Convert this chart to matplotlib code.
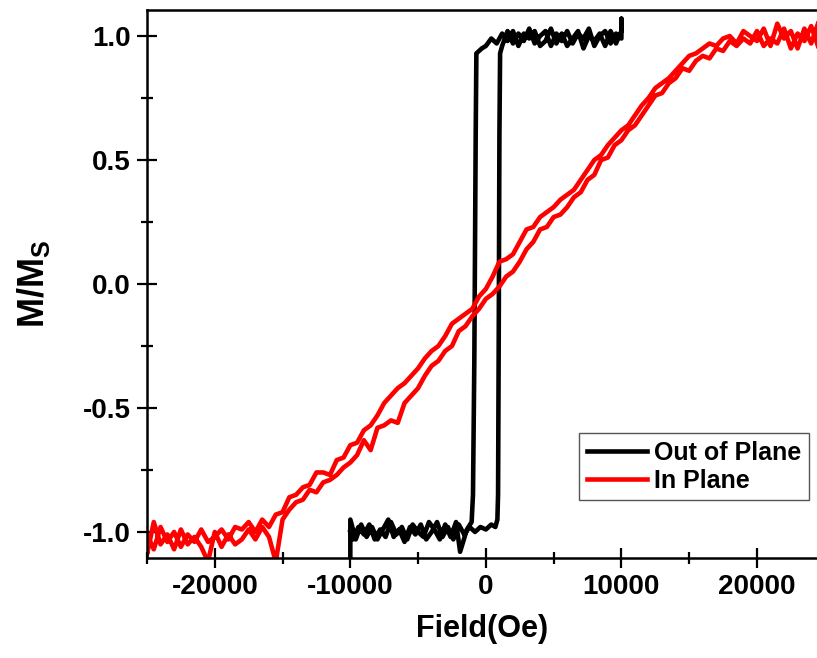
import matplotlib
matplotlib.use("Agg")
import matplotlib.pyplot as plt
from matplotlib.ticker import MultipleLocator

plt.rcParams["font.family"] = ["Liberation Sans", "DejaVu Sans"]
plt.rcParams["font.weight"] = "bold"
plt.rcParams["mathtext.fontset"] = "custom"
plt.rcParams["mathtext.rm"] = "Liberation Sans:bold"
plt.rcParams["mathtext.bf"] = "Liberation Sans:bold"
plt.rcParams["mathtext.it"] = "Liberation Sans:bold"

# Out of plane loop (black), field in Oe
oop_up_field = [-10000, -10000, -9600, -9200, -8800, -8400, -8000, -7600, -7200, -6800,
                -6400, -6000, -5600, -5200, -4800, -4400, -4000, -3600, -3200, -2800,
                -2400, -2000, -1600, -1200, -800, -400, 0, 400, 700, 850,
                900, 950, 1000, 1050, 1200, 1600, 2000, 2400, 2800, 3200,
                3600, 4000, 4400, 4800, 5200, 5600, 6000, 6400, 6800, 7200,
                7600, 8000, 8400, 8800, 9200, 9600, 10000, 10000]
oop_up_m = [-1.15, -0.95, -1.03, -0.97, -1.02, -0.98, -1.03, -0.99, -0.95, -1.02,
            -0.99, -1.04, -0.98, -1.01, -0.97, -1.03, -1.00, -0.96, -1.02, -0.98,
            -1.03, -0.97, -1.01, -0.98, -1.00, -0.98, -0.99, -0.97, -0.98, -0.95,
            -0.85, -0.20, 0.60, 0.93, 0.96, 1.02, 0.97, 1.01, 0.98, 1.03,
            0.97, 1.00, 1.02, 0.96, 1.01, 0.98, 1.02, 0.97, 1.01, 0.99,
            1.03, 0.96, 1.00, 1.02, 0.97, 1.01, 0.99, 1.07]

oop_down_field = [10000, 9600, 9200, 8800, 8400, 8000, 7600, 7200, 6800, 6400,
                  6000, 5600, 5200, 4800, 4400, 4000, 3600, 3200, 2800, 2400,
                  2000, 1600, 1200, 800, 400, 0, -300, -500, -700, -750,
                  -850, -950, -1050, -1400, -1900, -2200, -2600, -3000, -3400, -3800,
                  -4200, -4600, -5000, -5400, -5800, -6200, -6600, -7000, -7400, -7800,
                  -8200, -8600, -9000, -9400, -9800, -10000]
oop_down_m = [1.02, 0.97, 1.02, 0.96, 1.01, 0.98, 1.00, 0.95, 1.02, 0.99,
              0.96, 1.01, 0.97, 1.03, 0.98, 0.96, 1.02, 0.99, 1.01, 0.96,
              1.02, 0.98, 1.01, 0.97, 0.99, 0.96, 0.95, 0.94, 0.93, 0.60,
              -0.30, -0.85, -0.96, -0.99, -1.08, -0.96, -1.02, -0.97, -1.03, -0.99,
              -0.96, -1.02, -1.00, -0.97, -1.03, -0.98, -1.01, -0.96, -1.02, -0.99,
              -1.03, -0.97, -1.01, -0.98, -1.03, -1.00]

# In plane loop (red), same field grid for both branches
ip_field = [-25000, -24500, -24000, -23500, -23000, -22500, -22000, -21500, -21000, -20500,
            -20000, -19500, -19000, -18500, -18000, -17500, -17000, -16500, -16000, -15500,
            -15000, -14500, -14000, -13500, -13000, -12500, -12000, -11500, -11000, -10500,
            -10000, -9500, -9000, -8500, -8000, -7500, -7000, -6500, -6000, -5500,
            -5000, -4500, -4000, -3500, -3000, -2500, -2000, -1500, -1000, -500,
            0, 500, 1000, 1500, 2000, 2500, 3000, 3500, 4000, 4500,
            5000, 5500, 6000, 6500, 7000, 7500, 8000, 8500, 9000, 9500,
            10000, 10500, 11000, 11500, 12000, 12500, 13000, 13500, 14000, 14500,
            15000, 15500, 16000, 16500, 17000, 17500, 18000, 18500, 19000, 19500,
            20000, 20500, 21000, 21500, 22000, 22500, 23000, 23500, 24000, 24500]
ip_up_m = [-1.09, -0.96, -1.05, -1.01, -1.07, -0.99, -1.05, -1.02, -1.06, -1.12,
           -1.00, -1.06, -1.01, -1.05, -1.03, -0.99, -1.03, -0.98, -1.02, -1.12,
           -0.95, -0.91, -0.88, -0.87, -0.83, -0.84, -0.80, -0.79, -0.77, -0.74,
           -0.72, -0.69, -0.63, -0.67, -0.58, -0.57, -0.55, -0.56, -0.48, -0.45,
           -0.42, -0.37, -0.33, -0.31, -0.27, -0.25, -0.19, -0.17, -0.13, -0.10,
           -0.06, -0.04, -0.01, 0.03, 0.05, 0.09, 0.14, 0.17, 0.22, 0.23,
           0.27, 0.28, 0.31, 0.35, 0.37, 0.42, 0.44, 0.50, 0.51, 0.56,
           0.58, 0.62, 0.64, 0.68, 0.72, 0.76, 0.77, 0.81, 0.83, 0.87,
           0.86, 0.90, 0.92, 0.91, 0.95, 0.94, 0.98, 0.96, 0.99, 0.97,
           1.02, 0.96, 0.99, 0.97, 1.03, 0.95, 1.01, 0.98, 1.04, 0.96]
ip_down_m = [-1.01, -1.07, -0.98, -1.04, -1.00, -1.06, -1.01, -1.04, -0.99, -1.04,
             -1.02, -0.99, -1.03, -0.98, -0.99, -0.96, -1.00, -0.95, -0.98, -0.93,
             -0.92, -0.86, -0.85, -0.82, -0.81, -0.76, -0.76, -0.77, -0.71, -0.70,
             -0.65, -0.64, -0.59, -0.57, -0.53, -0.48, -0.45, -0.42, -0.40, -0.37,
             -0.34, -0.30, -0.27, -0.25, -0.21, -0.16, -0.14, -0.12, -0.10, -0.05,
             -0.02, 0.03, 0.09, 0.10, 0.12, 0.17, 0.22, 0.23, 0.27, 0.29,
             0.31, 0.34, 0.36, 0.38, 0.42, 0.46, 0.50, 0.52, 0.56, 0.59,
             0.62, 0.64, 0.68, 0.72, 0.75, 0.79, 0.81, 0.83, 0.86, 0.89,
             0.92, 0.93, 0.95, 0.97, 0.96, 0.99, 1.00, 0.97, 1.02, 1.00,
             0.98, 1.03, 0.96, 1.05, 0.99, 1.02, 0.95, 1.03, 0.97, 1.05]

fig = plt.figure(figsize=(8.17, 6.58), dpi=100)
ax = fig.add_axes([147 / 817, 1 - 558 / 658, 670 / 817, 548 / 658])

ax.plot(oop_up_field + oop_down_field, oop_up_m + oop_down_m, color="black", lw=3.3, label="Out of Plane")
ax.plot(ip_field[::-1] + ip_field, ip_down_m[::-1] + ip_up_m, color="red", lw=3.3, label="In Plane")

ax.set_xlim(-25000, 24430)
ax.set_ylim(-1.105, 1.105)
ax.xaxis.set_minor_locator(MultipleLocator(5000))
ax.yaxis.set_minor_locator(MultipleLocator(0.25))
ax.set_yticks([-1.0, -0.5, 0.0, 0.5, 1.0])
ax.set_yticklabels(["-1.0", "-0.5", "0.0", "0.5", "1.0"])
ax.set_xticks([-20000, -10000, 0, 10000, 20000])
ax.set_xticklabels(["-20000", "-10000", "0", "10000", "20000"])

ax.tick_params(which="major", direction="inout", length=15, width=1.6, labelsize=20, pad=4)
ax.tick_params(which="minor", direction="inout", length=8.5, width=1.6)
for lab in ax.get_xticklabels() + ax.get_yticklabels():
    lab.set_fontweight("bold")

for s in ["left", "bottom", "top"]:
    ax.spines[s].set_linewidth(1.8)
ax.spines["right"].set_visible(False)

ax.set_xlabel("Field(Oe)", fontsize=22, fontweight="bold", labelpad=10)
ax.set_ylabel(r"M/M$_{\mathrm{S}}$", fontsize=26, fontweight="bold", labelpad=22)

leg = fig.legend(loc="lower right", bbox_to_anchor=(809 / 817, 1 - 500 / 658),
                 fontsize=18, handlelength=2.4, handletextpad=0.3, labelspacing=0.15,
                 borderpad=0.3, borderaxespad=0, fancybox=False, framealpha=1)
leg.get_frame().set_edgecolor("#555555")
leg.get_frame().set_linewidth(1.0)
for t in leg.get_texts():
    t.set_fontweight("bold")

fig.savefig("out.png", dpi=100)
